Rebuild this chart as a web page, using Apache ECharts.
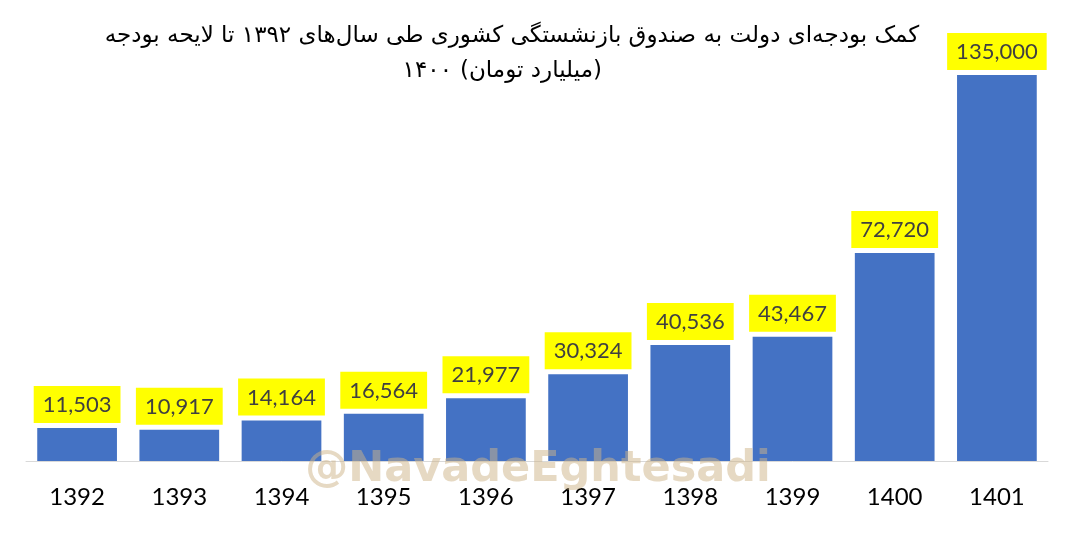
<!DOCTYPE html>
<html>
<head>
<meta charset="utf-8">
<script src="https://cdn.jsdelivr.net/npm/echarts@6/dist/echarts.min.js"></script>
<style>html,body{margin:0;padding:0;background:#fff}#c{width:1080px;height:541px}</style>
</head>
<body>
<div id="c"></div>
<script>
const categories = ['1392','1393','1394','1395','1396','1397','1398','1399','1400','1401'];
const values = [11503, 10917, 14164, 16564, 21977, 30324, 40536, 43467, 72720, 135000];
const titleLine1 = 'کمک بودجه‌ای دولت به صندوق بازنشستگی کشوری طی سال‌های ۱۳۹۲ تا لایحه بودجه';
const titleLine2a = '۱۴۰۰';
const titleLine2b = '(میلیارد تومان)';
const watermark = '@NavadeEghtesadi';

const titleFont = '23px "DejaVu Sans", sans-serif';
const chart = echarts.init(document.getElementById('c'), null, {renderer: 'canvas'});
chart.setOption({
  animation: false,
  backgroundColor: '#ffffff',
  grid: {left: 26, right: 32, top: 32, bottom: 80, containLabel: false},
  xAxis: {
    type: 'category',
    data: categories,
    boundaryGap: true,
    axisLine: {show: true, lineStyle: {color: '#d9d9d9', width: 1}},
    axisTick: {show: false},
    axisLabel: {color: '#000000', fontSize: 24, fontFamily: 'Lato, "Open Sans", sans-serif', margin: 24}
  },
  yAxis: {
    type: 'value',
    min: 0,
    max: 150000,
    show: false,
    splitLine: {show: false}
  },
  series: [{
    type: 'bar',
    data: values,
    barWidth: '78%',
    itemStyle: {color: '#4472C4'},
    label: {
      show: true,
      position: 'top',
      distance: 5,
      formatter: p => p.value.toLocaleString('en-US'),
      color: '#404040',
      fontSize: 22,
      fontFamily: 'Lato, "Open Sans", sans-serif',
      backgroundColor: '#FFFF00',
      padding: [8, 9, 7, 9]
    }
  }],
  graphic: [
    {type: 'text', x: 512, y: 36, style: {text: titleLine1, fill: '#000', font: titleFont, align: 'center', verticalAlign: 'middle'}},
    {type: 'text', x: 452, y: 71, style: {text: titleLine2a, fill: '#000', font: titleFont, align: 'right', verticalAlign: 'middle'}},
    {type: 'text', x: 460, y: 71, style: {text: titleLine2b, fill: '#000', font: titleFont, align: 'left', verticalAlign: 'middle'}},
    {type: 'text', x: 538, y: 470, z: 100, style: {text: watermark, fill: 'rgba(205,180,135,0.5)', font: 'bold 43px "DejaVu Sans", sans-serif', align: 'center', verticalAlign: 'middle'}}
  ]
});
</script>
</body>
</html>
